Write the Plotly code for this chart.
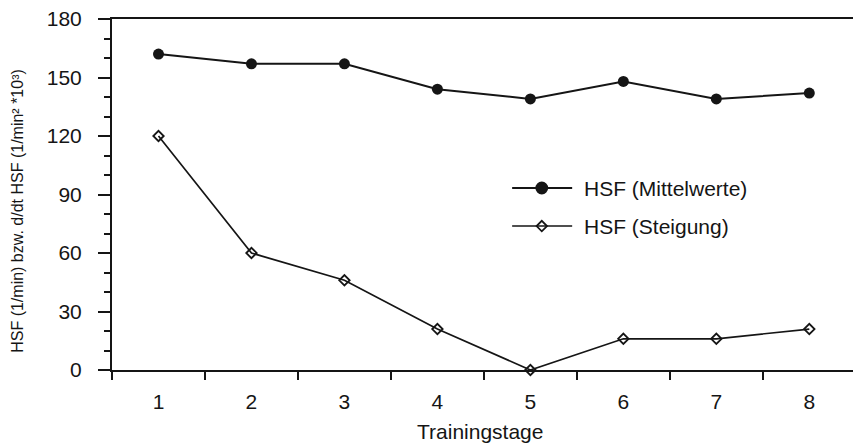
import plotly.graph_objects as go

# Trainingstage and the two HSF series
tage = [1, 2, 3, 4, 5, 6, 7, 8]
hsf_mittel = [162, 157, 157, 144, 139, 148, 139, 142]
hsf_steigung = [120, 60, 46, 21, 0, 16, 16, 21]
y_ticks = [0, 30, 60, 90, 120, 150, 180]

name_mittel = "HSF (Mittelwerte)"
name_steigung = "HSF (Steigung)"

INK = "#151515"
FONT = "Liberation Sans, Arial, Helvetica, sans-serif"
TEXT_SIZE = 21

fig = go.Figure()

fig.add_trace(go.Scatter(
    x=tage, y=hsf_mittel, mode="lines+markers", name=name_mittel,
    line=dict(color=INK, width=2),
    marker=dict(symbol="circle", size=11, color=INK),
    cliponaxis=False, showlegend=False,
))
fig.add_trace(go.Scatter(
    x=tage, y=hsf_steigung, mode="lines+markers", name=name_steigung,
    line=dict(color=INK, width=1.7),
    marker=dict(symbol="diamond-open", size=8, color=INK, line=dict(width=1.8, color=INK)),
    cliponaxis=False, showlegend=False,
))

# Hand-drawn legend: key lines as shapes, key markers on an overlay axis
key_rows = [(name_mittel, 0.5185, "circle", 11, 2.0),
            (name_steigung, 0.410, "diamond-open", 8, 1.5)]
key_x0, key_x1, key_xm, text_x = 0.540, 0.621, 0.580, 0.634
for label, ky, sym, size, lw in key_rows:
    fig.add_shape(type="line", xref="paper", yref="paper",
                  x0=key_x0, x1=key_x1, y0=ky, y1=ky,
                  line=dict(color=INK, width=lw))
    fig.add_trace(go.Scatter(
        x=[key_xm], y=[ky], xaxis="x2", yaxis="y2", mode="markers",
        marker=dict(symbol=sym, size=size, color=INK, line=dict(width=1.8, color=INK)),
        showlegend=False, hoverinfo="skip", cliponaxis=False,
    ))
    fig.add_annotation(x=text_x, y=ky, xref="paper", yref="paper",
                       text=label, showarrow=False, xanchor="left", yanchor="middle",
                       font=dict(family=FONT, size=TEXT_SIZE, color=INK))

# Axis titles
fig.add_annotation(x=0.497, y=-0.175, xref="paper", yref="paper",
                   text="Trainingstage", showarrow=False,
                   xanchor="center", yanchor="middle",
                   font=dict(family=FONT, size=TEXT_SIZE, color=INK))
fig.add_annotation(x=-0.128, y=0.454, xref="paper", yref="paper",
                   text="HSF (1/min) bzw. d/dt HSF (1/min² *10³)", showarrow=False,
                   textangle=-90, xanchor="center", yanchor="middle",
                   font=dict(family=FONT, size=16, color=INK))

fig.update_layout(
    width=853, height=444,
    margin=dict(l=112, r=0, t=19, b=74),
    paper_bgcolor="white", plot_bgcolor="white",
    font=dict(family=FONT, size=TEXT_SIZE, color=INK),
    xaxis=dict(
        range=[0.5, 8.47], tickmode="array", tickvals=tage,
        ticktext=[str(t) for t in tage],
        ticks="", ticklabelstandoff=12,
        showline=True, linewidth=2, linecolor=INK, mirror=True,
        showgrid=False, zeroline=False,
        minor=dict(ticks="outside", tick0=0.5, dtick=1, ticklen=8,
                   tickwidth=2, tickcolor=INK, showgrid=False),
        tickfont=dict(family=FONT, size=TEXT_SIZE, color=INK),
    ),
    yaxis=dict(
        range=[0, 180], tickmode="array", tickvals=y_ticks,
        ticks="outside", ticklen=12, tickwidth=2, tickcolor=INK,
        ticklabelstandoff=12,
        showline=True, linewidth=2, linecolor=INK,
        showgrid=False, zeroline=False,
        minor=dict(ticks="outside", tick0=0, dtick=10, ticklen=6,
                   tickwidth=2, tickcolor=INK, showgrid=False),
        tickfont=dict(family=FONT, size=TEXT_SIZE, color=INK),
    ),
    xaxis2=dict(range=[0, 1], overlaying="x", visible=False, domain=[0, 1]),
    yaxis2=dict(range=[0, 1], overlaying="y", visible=False),
)

fig.write_html("out.html")
